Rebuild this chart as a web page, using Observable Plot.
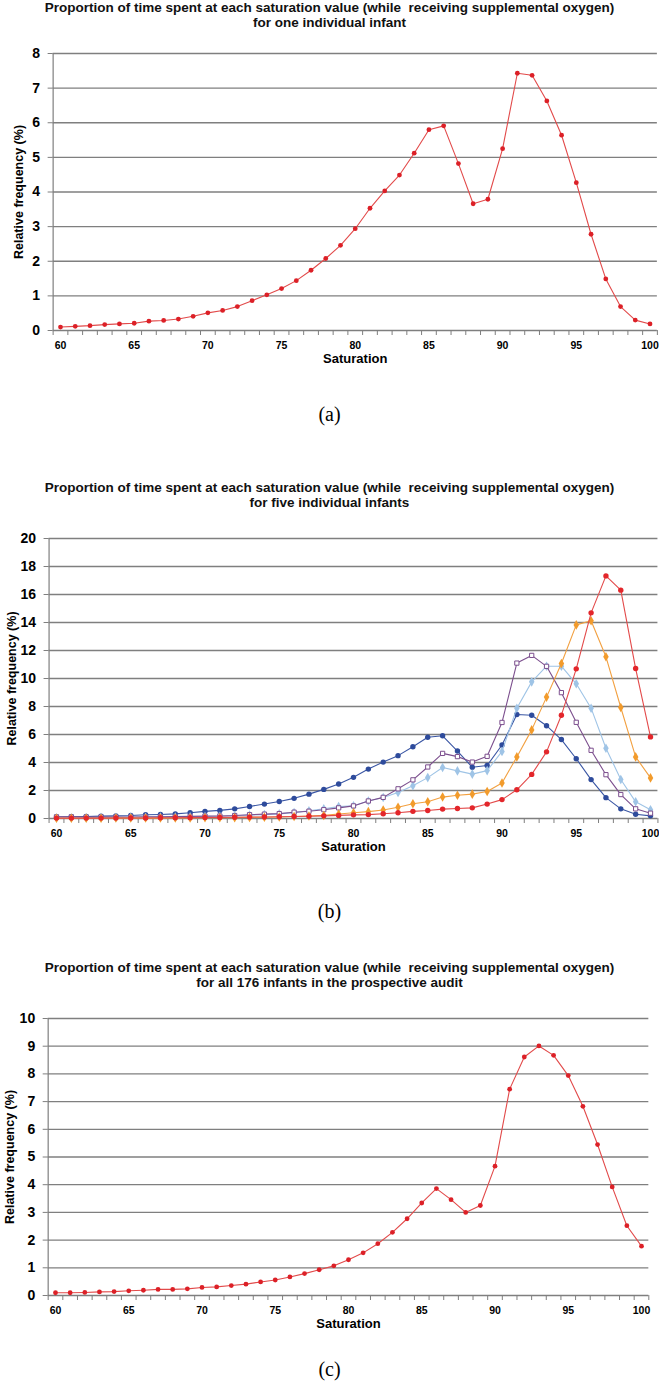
<!DOCTYPE html>
<html><head><meta charset="utf-8">
<script src="https://cdn.jsdelivr.net/npm/d3@7"></script>
<script src="https://cdn.jsdelivr.net/npm/@observablehq/plot@0.6"></script>
<style>
body{margin:0;background:#fff;}
#root{position:relative;width:659px;height:1389px;overflow:hidden;font-family:"Liberation Sans",Arial,sans-serif;}
.title{position:absolute;left:0;width:659px;text-align:center;font-weight:bold;font-size:13.5px;line-height:15px;color:#111;white-space:nowrap;}
.cap{position:absolute;left:0;width:659px;text-align:center;font-family:"Liberation Serif","Times New Roman",serif;font-size:20px;line-height:22px;color:#000;}
.panel{position:absolute;left:0;}
</style></head><body><div id="root"></div>
<script>
const saturation = [60,61,62,63,64,65,66,67,68,69,70,71,72,73,74,75,76,77,78,79,80,81,82,83,84,85,86,87,88,89,90,91,92,93,94,95,96,97,98,99,100];
const xTickLabels = [60,65,70,75,80,85,90,95,100];

// (a) one individual infant (also the dark blue series in (b))
const infantOne = [0.10,0.12,0.14,0.17,0.19,0.21,0.27,0.29,0.33,0.41,0.51,0.58,0.69,0.86,1.03,1.21,1.44,1.74,2.08,2.46,2.94,3.53,4.03,4.49,5.12,5.80,5.91,4.82,3.66,3.79,5.25,7.43,7.37,6.63,5.64,4.27,2.78,1.49,0.69,0.30,0.19];
// (b) four further infants
const infantPurple = [0.12,0.12,0.11,0.11,0.11,0.11,0.12,0.13,0.14,0.15,0.17,0.18,0.21,0.27,0.31,0.35,0.45,0.52,0.63,0.76,0.90,1.25,1.51,2.12,2.76,3.68,4.65,4.42,4.03,4.44,6.86,11.10,11.65,10.87,8.99,6.87,4.87,3.13,1.71,0.69,0.38];
const infantLightBlue = [0.06,0.06,0.06,0.07,0.07,0.08,0.09,0.10,0.11,0.12,0.14,0.16,0.19,0.24,0.28,0.33,0.42,0.55,0.70,0.85,0.91,1.25,1.50,1.86,2.34,2.92,3.64,3.40,3.17,3.42,4.79,7.88,9.76,10.88,10.88,9.62,7.88,5.02,2.79,1.19,0.62];
const infantOrange = [0.02,0.02,0.02,0.02,0.03,0.03,0.03,0.03,0.04,0.04,0.05,0.05,0.06,0.08,0.09,0.11,0.14,0.18,0.22,0.32,0.41,0.49,0.61,0.80,1.05,1.20,1.53,1.66,1.74,1.93,2.53,4.40,6.33,8.67,11.07,13.83,14.12,11.55,7.93,4.40,2.90];
const infantRed = [0.03,0.03,0.03,0.03,0.04,0.04,0.04,0.05,0.05,0.06,0.07,0.08,0.09,0.10,0.11,0.12,0.14,0.16,0.19,0.22,0.26,0.28,0.34,0.41,0.51,0.57,0.67,0.71,0.76,1.03,1.35,2.05,3.15,4.76,7.38,10.69,14.69,17.33,16.31,10.71,5.83];
// (c) all 176 infants
const allInfants = [0.10,0.10,0.11,0.13,0.14,0.17,0.19,0.22,0.22,0.24,0.29,0.31,0.36,0.41,0.49,0.56,0.67,0.79,0.93,1.07,1.29,1.54,1.87,2.28,2.77,3.34,3.86,3.46,3.00,3.25,4.67,7.45,8.61,9.01,8.67,7.94,6.83,5.45,3.92,2.52,1.78];

const yTicksA = [0,1,2,3,4,5,6,7,8];
const yTicksB = [0,2,4,6,8,10,12,14,16,18,20];
const yTicksC = [0,1,2,3,4,5,6,7,8,9,10];

const titleLine1 = "Proportion of time spent at each saturation value (while\u00a0 receiving supplemental oxygen)";
const subtitles = ["for one individual infant", "for five individual infants", "for all 176 infants in the prospective audit"];
const captions = ["(a)", "(b)", "(c)"];

const root = document.getElementById("root");
const GRID = "#7f7f7f";
const boundaries = saturation.map(s => s - 0.5).concat([saturation[saturation.length - 1] + 0.5]);

function toRows(values) { return saturation.map((s, i) => ({sat: s, v: values[i]})); }

function panel({series, yTicks, x60, x100, top, height, ylabDx}) {
  const unit = (x100 - x60) / 40;
  const marginLeft = x60 - unit / 2;
  const marginRight = 659 - (x100 + unit / 2);
  const marks = [
    Plot.gridY(yTicks.filter(t => t > 0), {stroke: GRID, strokeOpacity: 1, strokeWidth: 1.3}),
    Plot.ruleY([0], {stroke: GRID, strokeWidth: 1.3}),
    Plot.ruleX([59.5], {stroke: GRID, strokeWidth: 1.2}),
    Plot.axisY({ticks: yTicks, tickSize: 5, tickPadding: 8, fontSize: 14, fontWeight: "bold", stroke: GRID, fill: "#000", label: null}),
    Plot.axisX({ticks: boundaries, tickSize: 5, tickFormat: () => "", stroke: GRID, label: null}),
    Plot.axisX({ticks: xTickLabels, tickSize: 0, tickPadding: 11, fontSize: 10.5, fontWeight: "bold", fill: "#000", label: null}),
    Plot.text(["Relative frequency (%)"], {text: d => d, frameAnchor: "left", textAnchor: "middle", dx: ylabDx, rotate: -90, fontSize: 12.5, fontWeight: "bold", fill: "#000"}),
    Plot.text(["Saturation"], {text: d => d, frameAnchor: "bottom", textAnchor: "middle", dy: 28, lineAnchor: "middle", fontSize: 13, fontWeight: "bold", fill: "#000"})
  ];
  for (const s of series) {
    const rows = toRows(s.values);
    marks.push(Plot.line(rows, {x: "sat", y: "v", stroke: s.line, strokeWidth: 1.1}));
    if (s.symbol === "square") {
      marks.push(Plot.dot(rows, {x: "sat", y: "v", symbol: "square", r: 2.4, stroke: s.color, strokeWidth: 1, fill: "white"}));
    } else {
      marks.push(Plot.dot(rows, {x: "sat", y: "v", symbol: s.symbol, r: s.r, fill: s.color, stroke: "none"}));
    }
  }
  const chart = Plot.plot({
    width: 659, height,
    marginTop: 13, marginBottom: 40, marginLeft, marginRight,
    style: {fontFamily: "'Liberation Sans', Arial, sans-serif", background: "transparent", overflow: "visible"},
    x: {domain: [59.5, 100.5]},
    y: {domain: [0, yTicks[yTicks.length - 1]]},
    marks
  });
  chart.classList.add("panel");
  chart.style.top = top + "px";
  root.appendChild(chart);
}

function addTitle(i, top) {
  const d = document.createElement("div");
  d.className = "title";
  d.style.top = top + "px";
  d.innerHTML = titleLine1 + "<br>" + subtitles[i];
  root.appendChild(d);
}
function addCaption(i, center) {
  const d = document.createElement("div");
  d.className = "cap";
  d.style.top = (center - 11) + "px";
  d.textContent = captions[i];
  root.appendChild(d);
}

addTitle(0, 0);
panel({series: [{values: infantOne, color: "#dc2027", line: "#e24a4a", symbol: "circle", r: 2.4}],
       yTicks: yTicksA, x60: 60, x100: 649.5, top: 40, height: 330, ylabDx: -34});
addCaption(0, 414);

addTitle(1, 480);
panel({series: [
         {values: infantOne, color: "#2e4b9c", line: "#3a56a4", symbol: "circle", r: 2.7},
         {values: infantLightBlue, color: "#9fc4e6", line: "#9fc4e6", symbol: "diamond", r: 2.9},
         {values: infantPurple, color: "#7c4f8e", line: "#7c4f8e", symbol: "square"},
         {values: infantOrange, color: "#f29b2c", line: "#f2a040", symbol: "diamond", r: 2.9},
         {values: infantRed, color: "#e3262b", line: "#e34a4a", symbol: "circle", r: 2.7}
       ],
       yTicks: yTicksB, x60: 56, x100: 650, top: 525, height: 333, ylabDx: -37});
addCaption(1, 911);

addTitle(2, 960);
panel({series: [{values: allInfants, color: "#dc2027", line: "#e24a4a", symbol: "circle", r: 2.4}],
       yTicks: yTicksC, x60: 55, x100: 641, top: 1005, height: 330, ylabDx: -38});
addCaption(2, 1369);
</script></body></html>
